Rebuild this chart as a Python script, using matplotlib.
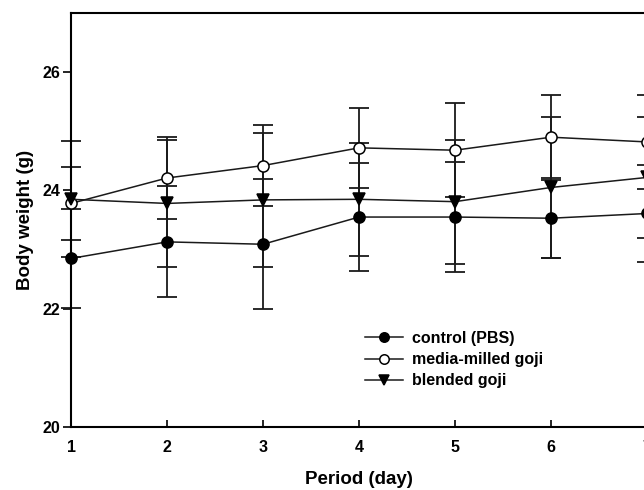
import numpy as np
import matplotlib.pyplot as plt

plt.rcParams['font.family'] = ['Liberation Sans', 'DejaVu Sans']
plt.rcParams['font.weight'] = 'bold'

days = [1, 2, 3, 4, 5, 6, 7]

control = [22.85, 23.13, 23.09, 23.55, 23.55, 23.53, 23.61]
control_sd = [0.84, 0.94, 1.10, 0.92, 0.93, 0.68, 0.82]

milled = [23.78, 24.21, 24.42, 24.72, 24.68, 24.90, 24.82]
milled_sd = [0.62, 0.69, 0.68, 0.68, 0.79, 0.72, 0.80]

blended = [23.85, 23.78, 23.84, 23.85, 23.81, 24.05, 24.22]
blended_sd = [0.98, 1.08, 1.13, 0.96, 1.05, 1.19, 1.02]

fig = plt.figure(figsize=(6.44, 4.9), dpi=100)
W, H = 644, 490
# axes runs a little past the right edge (x=7 sits at the border)
ax = fig.add_axes([71 / W, 1 - 427 / H, (647 - 71) / W, (427 - 13) / H])

series = [
    (control, control_sd, 'o', 'black', 'control (PBS)'),
    (milled, milled_sd, 'o', 'white', 'media-milled goji'),
    (blended, blended_sd, 'v', 'black', 'blended goji'),
]

handles = []
for vals, sd, mk, fc, lab in series:
    ax.errorbar(days, vals, yerr=sd, fmt='none', ecolor='#1a1a1a',
                elinewidth=1.3, capsize=7, capthick=1.3, clip_on=False, zorder=2)
for vals, sd, mk, fc, lab in series:
    h, = ax.plot(days, vals, color='#1a1a1a', lw=1.1, marker=mk, ms=8,
                 mfc=fc, mec='black', mew=1.1, clip_on=False, zorder=3, label=lab)
    handles.append(h)

ax.set_xlim(1, 7)
ax.set_ylim(20, 27)
ax.set_xticks(days)
ax.set_yticks([20, 22, 24, 26])

ax.tick_params(axis='x', direction='in', length=5, width=1.2, pad=9, labelsize=11.5)
ax.tick_params(axis='y', direction='out', length=6, width=1.2, pad=2, labelsize=11.5)

for side in ['left', 'bottom', 'top']:
    ax.spines[side].set_linewidth(1.5)
ax.spines['right'].set_visible(False)

ax.set_xlabel('Period (day)', fontsize=13.5, fontweight='bold', labelpad=12)
ax.set_ylabel('Body weight (g)', fontsize=13.5, fontweight='bold', labelpad=6)

ax.legend(handles=handles, loc='upper left', bbox_to_anchor=(365 / W, 1 - 331 / H),
          bbox_transform=fig.transFigure, frameon=False, fontsize=11.5,
          numpoints=1, markerscale=0.85, handlelength=2.4, handletextpad=0.55,
          labelspacing=0.39, borderpad=0, borderaxespad=0)

fig.savefig('out.png', dpi=100)
